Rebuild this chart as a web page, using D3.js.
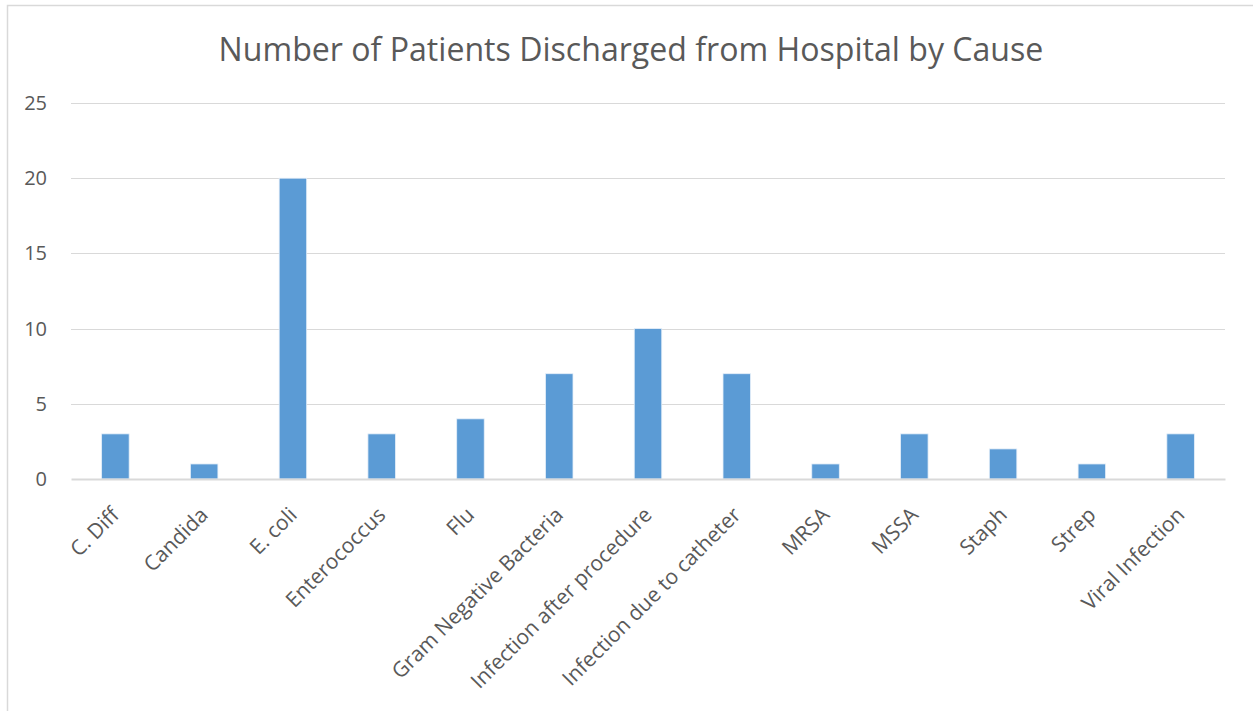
<!DOCTYPE html>
<html>
<head>
<meta charset="utf-8">
<script src="https://cdn.jsdelivr.net/npm/d3@7"></script>
<style>
  body { margin: 0; background: #fff; }
  text { font-family: "Open Sans", "Noto Sans", sans-serif; fill: #595959; }
</style>
</head>
<body>
<div id="chart"></div>
<script>
// data
var causes = ["C. Diff", "Candida", "E. coli", "Enterococcus", "Flu", "Gram Negative Bacteria",
  "Infection after procedure", "Infection due to catheter", "MRSA", "MSSA", "Staph", "Strep", "Viral Infection"];
var patients = [3, 1, 20, 3, 4, 7, 10, 7, 1, 3, 2, 1, 3];
var yTicks = [0, 5, 10, 15, 20, 25];
var title = "Number of Patients Discharged from Hospital by Cause";

var W = 1253, H = 711;
var margin = {top: 103, right: 28, bottom: 232, left: 71},
  width = W - margin.left - margin.right,
  height = H - margin.top - margin.bottom;

var svg = d3.select("#chart").append("svg")
  .attr("width", W)
  .attr("height", H);

// outer chart border
svg.append("rect")
  .attr("x", 7.5).attr("y", 5.5)
  .attr("width", W + 20).attr("height", H + 20)
  .attr("fill", "none")
  .attr("stroke", "#d9d9d9")
  .attr("stroke-width", 1.5);

var t = svg.append("text")
  .attr("x", 631)
  .attr("y", 61)
  .attr("text-anchor", "middle")
  .style("font-size", "30px")
  .text(title);
// stretch the title to the same width as in the picture
var tw = t.node().getComputedTextLength();
t.style("font-size", (30 * 825 / tw) + "px");

var g = svg.append("g")
  .attr("transform", "translate(" + margin.left + "," + margin.top + ")");

var x = d3.scaleBand()
  .domain(causes)
  .range([0, width])
  .paddingInner(0.69)
  .paddingOuter(0.345);

var y = d3.scaleLinear()
  .domain([0, 25])
  .range([height, 0]);

// gridlines
g.append("g")
  .selectAll("line")
  .data(yTicks.filter(function(d) { return d > 0; }))
  .enter().append("line")
    .attr("x1", 0).attr("x2", width)
    .attr("y1", function(d) { return Math.round(y(d)) + 0.5; })
    .attr("y2", function(d) { return Math.round(y(d)) + 0.5; })
    .attr("stroke", "#d9d9d9")
    .attr("stroke-width", 1);

// y axis labels
var yAxis = g.append("g")
  .call(d3.axisLeft(y).tickValues(yTicks).tickSize(0).tickPadding(24));
yAxis.select(".domain").remove();
yAxis.selectAll("text")
  .style("font-size", "20px")
  .attr("fill", "#595959");

// bars
g.append("g")
  .selectAll("rect")
  .data(causes)
  .enter().append("rect")
    .attr("x", function(d) { return x(d); })
    .attr("y", function(d, i) { return y(patients[i]); })
    .attr("width", x.bandwidth())
    .attr("height", function(d, i) { return height - y(patients[i]); })
    .attr("fill", "#5b9bd5")
    .attr("stroke", "#e6eff9")
    .attr("stroke-width", 0.8);

// x axis
var xAxis = g.append("g")
  .attr("transform", "translate(0," + height + ")")
  .call(d3.axisBottom(x).tickSize(0).tickPadding(0));
xAxis.select(".domain")
  .attr("stroke", "#d9d9d9")
  .attr("stroke-width", 2);
xAxis.selectAll("text")
  .style("font-size", "21px")
  .attr("fill", "#595959")
  .style("text-anchor", "end")
  .attr("dy", "0.35em")
  .attr("transform", "translate(0,32) rotate(-45)");
</script>
</body>
</html>
